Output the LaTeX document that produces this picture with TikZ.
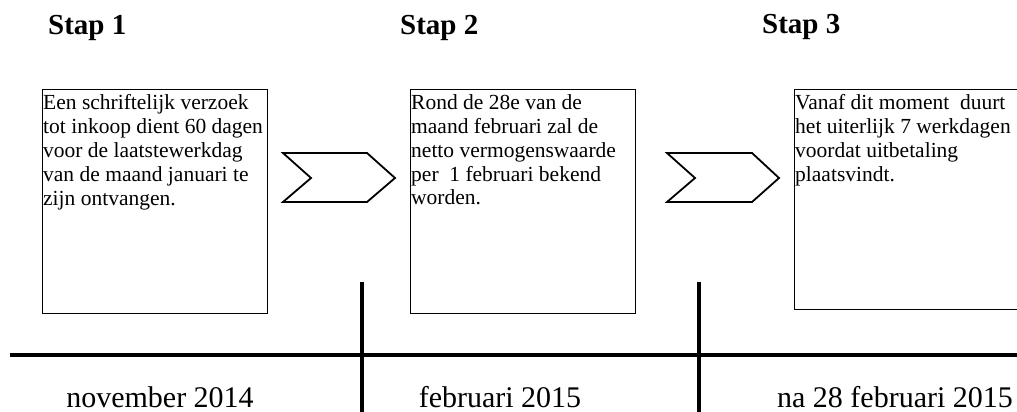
\documentclass[tikz,border=0pt]{standalone}
\usepackage{fontspec}
\setmainfont{Liberation Serif}

\tikzset{
  stepbox/.style={draw, line width=1.2pt, minimum width=225pt, minimum height=224pt, anchor=north west, inner sep=0pt},
  steptext/.style={anchor=north west, inner xsep=1pt, inner ysep=5.5pt, align=left, font=\fontsize{21.5}{23.8}\selectfont},
  chevron/.style={draw, line width=1.8pt, line join=miter},
  steplabel/.style={anchor=base west, inner sep=0pt, font=\fontsize{29}{31}\selectfont\bfseries},
  datelabel/.style={anchor=base, inner sep=0pt, font=\fontsize{30}{32}\selectfont},
  timeline/.style={line width=4pt}
}

\begin{document}
\begin{tikzpicture}[x=1pt, y=-1pt]
\useasboundingbox (0,0) rectangle (1017,412);
\clip (0,0) rectangle (1017,412);

% headers
\node [steplabel] (stap1) at (48,35) {Stap 1};
\node [steplabel] (stap2) at (400,35) {Stap 2};
\node [steplabel] (stap3) at (762,34) {Stap 3};

% step boxes
\node [stepbox] (box1) at (42,89) {};
\node [stepbox] (box2) at (410,89) {};
\node [stepbox, minimum height=220pt] (box3) at (794,89) {};

\node [steptext] (text1) at (box1.north west) {Een schriftelijk verzoek\\tot inkoop dient 60 dagen\\voor de laatstewerkdag\\van de maand januari te\\zijn ontvangen.};
\node [steptext] (text2) at (box2.north west) {Rond de 28e van de\\maand februari zal de\\netto vermogenswaarde\\per\ \ 1 februari bekend\\worden.};
\node [steptext] (text3) at (box3.north west) {Vanaf dit moment\ \ duurt\\het uiterlijk 7 werkdagen\\voordat uitbetaling\\plaatsvindt.};

% chevrons
\draw [chevron] (283,153) -- (367,153) -- (395,178) -- (367,202) -- (283,202) -- (311,178) -- cycle;
\draw [chevron] (667,153) -- (752,153) -- (779,178) -- (752,202) -- (667,202) -- (695,178) -- cycle;

% time line
\coordinate (start) at (10,355);
\coordinate (end) at (1017,355);
\coordinate (tick1) at (362,282);
\coordinate (tick2) at (699,282);
\draw [timeline] (start) -- (end);
\draw [timeline] (tick1) -- (tick1 |- 0,412);
\draw [timeline] (tick2) -- (tick2 |- 0,412);

% dates
\node [datelabel] (date1) at (160,407) {november 2014};
\node [datelabel] (date2) at (500,407) {februari 2015};
\node [datelabel] (date3) at (895,407) {na 28 februari 2015};

\end{tikzpicture}
\end{document}
